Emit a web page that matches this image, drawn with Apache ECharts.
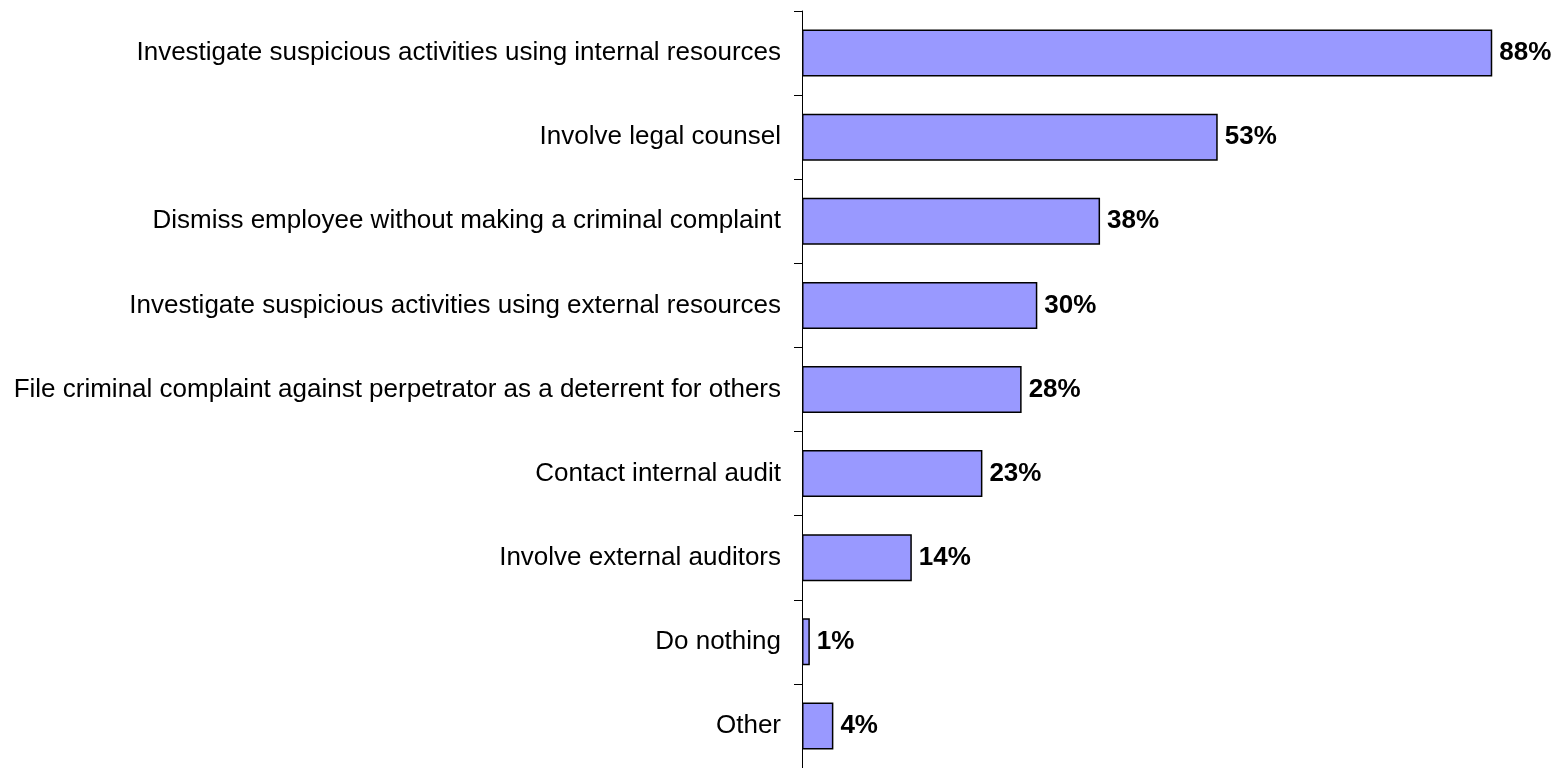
<!DOCTYPE html>
<html>
<head>
<meta charset="utf-8">
<script src="https://cdn.jsdelivr.net/npm/echarts@6/dist/echarts.min.js"></script>
<style>html,body{margin:0;padding:0;background:#fff;}#c{width:1555px;height:768px;}</style>
</head>
<body>
<div id="c"></div>
<script>
const categories = [
  "Investigate suspicious activities using internal resources",
  "Involve legal counsel",
  "Dismiss employee without making a criminal complaint",
  "Investigate suspicious activities using external resources",
  "File criminal complaint against perpetrator as a deterrent for others",
  "Contact internal audit",
  "Involve external auditors",
  "Do nothing",
  "Other"
];
const values = [88, 53, 38, 30, 28, 23, 14, 1, 4];

const chart = echarts.init(document.getElementById('c'), null, {renderer: 'canvas'});
chart.setOption({
  animation: false,
  grid: {left: 802, top: 11, right: 0, height: 760, containLabel: false},
  xAxis: {type: 'value', min: 0, max: 96, show: false},
  yAxis: {
    type: 'category', data: categories, inverse: true,
    axisLine: {show: true, lineStyle: {color: '#000', width: 1}},
    axisTick: {show: true, length: 8, lineStyle: {color: '#000'}},
    axisLabel: {color: '#000', fontFamily: 'Liberation Sans, Arial, sans-serif', fontSize: 26, margin: 21},
    splitLine: {show: false}
  },
  series: [{
    type: 'bar', data: values, barWidth: 47,
    itemStyle: {color: '#9999FF', borderColor: '#000', borderWidth: 1.5},
    label: {show: true, position: 'right', distance: 7, formatter: '{c}%', color: '#000', fontWeight: 'bold', fontFamily: 'Liberation Sans, Arial, sans-serif', fontSize: 26}
  }]
});
</script>
</body>
</html>
